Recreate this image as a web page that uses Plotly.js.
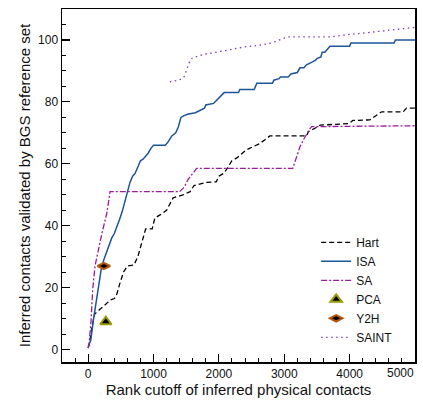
<!DOCTYPE html>
<html><head><meta charset="utf-8">
<script src="https://cdn.plot.ly/plotly-3.0.1.min.js"></script>
<style>html,body{margin:0;padding:0;background:#fff}</style>
</head><body>
<div id="chart" style="width:423px;height:401px"></div>
<script>
// Data
const hartX = [0,20,60,100,180,260,340,400,440,480,540,600,700,760,800,840,880,980,1020,1100,1200,1300,1450,1560,1620,1800,1960,2000,2080,2140,2200,2280,2340,2420,2520,2620,2700,2780,3340,3370,3470,3550,3990,4050,4310,4420,4490,4820,4870,5000];
const hartY = [0.5,2,7.5,11.5,13,14.5,16,16.5,18,21,25,27,27.3,30,33,36,39,39,42.5,43.5,45,49,50,51,53,54,54.2,56,57,59,61,62,63,64.5,65.5,66.5,67.7,69,69,70.4,71.5,72.5,73,74,74.2,75.8,76.8,76.8,78,78];

const isaX = [0,40,80,120,160,200,240,280,320,360,400,440,480,520,560,600,640,680,720,760,800,840,880,920,960,1000,1180,1220,1280,1340,1380,1420,1460,1520,1640,1680,1780,1800,1920,1940,2040,2080,2120,2300,2320,2540,2580,2820,2840,2920,2940,3060,3100,3200,3240,3300,3340,3400,3440,3480,3500,3560,3580,3620,3700,3720,4000,4020,4680,4700,5000];
const isaY = [1,3,9.5,15,21,26,29,31.5,33.5,36,37.5,39.5,42,44.5,48,51,54,56,57,59,61,61.5,62.5,63.5,65,66,66,67,69,70,72,75,75.5,76,76.5,77,78,79,79.5,80,82,83,83,83,84,84,86,86,87,87.5,88,88,89,89.5,91,91,92,92.5,93,93.5,94,94.5,96,96,98,98,98,99,99,100,100];

const saX = [0,15,45,70,105,155,210,285,335,1400,1470,1530,1600,1660,3130,3170,3240,3300,3380,3420,5000];
const saY = [0.5,2,9.5,19.5,27,32.5,37.5,44,51,51,52.5,55,57,58.5,58.5,61,65.5,68,71,72,72.3];

const pcaX = [270];
const pcaY = [9];

const y2hX = [240];
const y2hY = [27];

const saintX = [1250,1380,1440,1480,1500,1530,1560,1600,1700,1800,1900,2000,2100,2200,2400,2600,2800,2900,3000,3050,3700,3800,4000,4200,4400,4600,4800,5000];
const saintY = [86.5,87,87.5,88.5,90,92,93.5,94.3,95,95.5,95.8,96.2,96.8,97.2,97.8,98.2,99,99.8,100.6,101,101,101.3,101.8,102.2,102.6,103,103.6,104.1];

// x tick labels; the last one sits at the plot's right edge and is drawn right-aligned
const xTickVals = [0,1000,2000,3000,4000,5000];
const xTickText = ['0','1000','2000','3000','4000','5000'];
const yTickVals = [0,20,40,60,80,100];
const yTickText = ['0','20','40','60','80','100'];

const traces = [
  {x: hartX, y: hartY, name: 'Hart', mode: 'lines', line: {color: '#000000', width: 1.3, dash: '5px,3px'}},
  {x: isaX, y: isaY, name: 'ISA', mode: 'lines', line: {color: '#1d5599', width: 1.5}},
  {x: saX, y: saY, name: 'SA', mode: 'lines', line: {color: '#9a1c9a', width: 1.3, dash: '6px,2px,2px,2px'}},
  {x: pcaX, y: pcaY, name: 'PCA', mode: 'markers', marker: {symbol: 'triangle-up', size: 10, color: '#000000', line: {color: '#9a9a00', width: 2}}},
  {x: y2hX, y: y2hY, name: 'Y2H', mode: 'markers', marker: {symbol: 'diamond-wide', size: 9, color: '#000000', line: {color: '#b0560f', width: 2}}},
  {x: saintX, y: saintY, name: 'SAINT', mode: 'lines', line: {color: '#7a3cc6', width: 1.3, dash: '1.5px,3.5px'}}
];

const fam = 'Liberation Sans, Arial, sans-serif';
const axFont = {family: fam, size: 12, color: '#111'};
const n = xTickVals.length;

const layout = {
  width: 423, height: 401,
  margin: {l: 62, r: 8, t: 9, b: 39, pad: 0},
  paper_bgcolor: '#fff', plot_bgcolor: '#fff',
  font: axFont,
  showlegend: true,
  legend: {x: 0.72, xanchor: 'left', y: 0.38, yanchor: 'top', bgcolor: 'rgba(0,0,0,0)', font: {family: fam, size: 12, color: '#111'}, tracegroupgap: 0},
  xaxis: {
    range: [-400, 5000], showgrid: false, zeroline: false,
    showline: true, linecolor: '#000', linewidth: 1.5, mirror: true,
    ticks: 'inside', ticklen: 8, tickwidth: 1.2, tickcolor: '#000',
    tickvals: xTickVals, ticktext: xTickText.slice(0, n - 1).concat(['']), tickfont: axFont,
    minor: {dtick: 200, tick0: 0, ticks: 'inside', ticklen: 4, tickwidth: 1, tickcolor: '#000', showgrid: false},
    title: {text: 'Rank cutoff of inferred physical contacts', font: {family: fam, size: 15, color: '#111'}, standoff: 4}
  },
  yaxis: {
    range: [-4, 110], showgrid: false, zeroline: false,
    showline: true, linecolor: '#000', linewidth: 1.5, mirror: true,
    ticks: 'inside', ticklen: 8, tickwidth: 1.2, tickcolor: '#000',
    tickvals: yTickVals, ticktext: yTickText, tickfont: axFont,
    minor: {dtick: 5, tick0: 0, ticks: 'inside', ticklen: 4, tickwidth: 1, tickcolor: '#000', showgrid: false},
    title: {text: 'Inferred contacts validated by BGS reference set', font: {family: fam, size: 15, color: '#111'}, standoff: 4}
  },
  annotations: [{
    x: xTickVals[n - 1], xref: 'x', y: 0, yref: 'paper',
    text: xTickText[n - 1], showarrow: false, xanchor: 'right', yanchor: 'middle',
    yshift: -11, xshift: 1, font: axFont
  }]
};

Plotly.newPlot('chart', traces, layout, {displayModeBar: false, staticPlot: true});
</script>
</body></html>
